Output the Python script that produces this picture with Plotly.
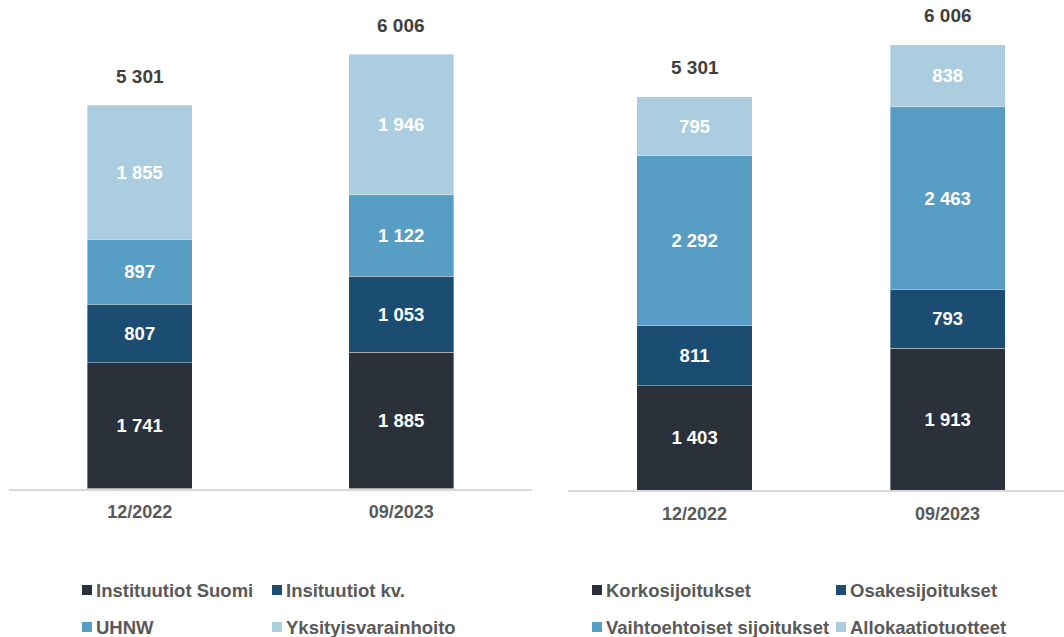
import plotly.graph_objects as go

# Periods shown on both panels
periods = ["12/2022", "09/2023"]

# Left panel: assets by client segment
seg_names = ["Instituutiot Suomi", "Insituutiot kv.", "UHNW", "Yksityisvarainhoito"]
inst_suomi = [1741, 1885]
inst_kv = [807, 1053]
uhnw = [897, 1122]
yksityis = [1855, 1946]
seg_totals = [5301, 6006]

# Right panel: assets by product type
prod_names = ["Korkosijoitukset", "Osakesijoitukset", "Vaihtoehtoiset sijoitukset", "Allokaatiotuotteet"]
korko = [1403, 1913]
osake = [811, 793]
vaihtoehtoiset = [2292, 2463]
allokaatio = [795, 838]
prod_totals = [5301, 6006]

colors = ["#2a313b", "#1b4d73", "#589dc4", "#aacedf"]
FONT = "Arial, Liberation Sans, sans-serif"
W, H = 1064, 637

fig = go.Figure()

def add_stack(series, names, xa, ya, width):
    for vals, name, col in zip(series, names, colors):
        fig.add_trace(go.Bar(
            x=periods, y=vals, name=name, xaxis=xa, yaxis=ya,
            marker=dict(color=col, line=dict(color="rgba(255,255,255,0.6)", width=0.6)),
            width=width,
            texttemplate="%{y:,.0f}", textposition="inside",
            insidetextanchor="middle", constraintext="none", textangle=0,
            textfont=dict(family=FONT, size=18.5, color="white", weight="bold"),
            showlegend=False, hoverinfo="skip",
        ))

add_stack([inst_suomi, inst_kv, uhnw, yksityis], seg_names, "x", "y", 0.40)
add_stack([korko, osake, vaihtoehtoiset, allokaatio], prod_names, "x2", "y2", 0.455)

# Totals above each stack
for totals, xa, ya in [(seg_totals, "x", "y"), (prod_totals, "x2", "y2")]:
    for p, t in zip(periods, totals):
        fig.add_annotation(
            x=p, y=t, xref=xa, yref=ya, text=f"{t:,}".replace(",", " "),
            showarrow=False, yanchor="middle", yshift=29,
            font=dict(family=FONT, size=19, color="#404040", weight="bold"),
        )

# Legends drawn as colour squares with bold labels
def px_x(v):
    return v / W

def px_y(v):
    return 1 - v / H

legend_layout = [
    (seg_names, [(82, 590), (272, 590), (82, 627), (272, 627)]),
    (prod_names, [(592, 590), (836, 590), (592, 627), (836, 627)]),
]
for names, spots in legend_layout:
    for name, col, (sx, sy) in zip(names, colors, spots):
        fig.add_shape(type="rect", xref="paper", yref="paper",
                      x0=px_x(sx), x1=px_x(sx + 10), y0=px_y(sy + 5), y1=px_y(sy - 5),
                      fillcolor=col, line=dict(width=0))
        fig.add_annotation(x=px_x(sx + 12), y=px_y(sy), xref="paper", yref="paper",
                           text=name, showarrow=False, xanchor="left", yanchor="middle",
                           font=dict(family=FONT, size=18.5, color="#595959", weight="bold"))

axis_common = dict(
    showgrid=False, zeroline=False, ticks="", showline=True,
    linecolor="#d9d9d9", linewidth=2, fixedrange=True,
    tickfont=dict(family=FONT, size=18, color="#595959", weight="bold"),
    ticklabelstandoff=6,
)
yaxis_common = dict(visible=False, showgrid=False, zeroline=False, fixedrange=True)

fig.update_layout(
    width=W, height=H, margin=dict(l=0, r=0, t=0, b=0),
    paper_bgcolor="white", plot_bgcolor="white",
    barmode="stack", separators=", ",
    xaxis=dict(domain=[9 / W, 532 / W], range=[-0.5, 1.5], anchor="y", **axis_common),
    yaxis=dict(domain=[(H - 488.5) / H, 1], range=[0, 6757], **yaxis_common),
    xaxis2=dict(domain=[568 / W, 1], range=[-0.5, 1.46], anchor="y2", **axis_common),
    yaxis2=dict(domain=[(H - 490) / H, 1], range=[0, 6609], **yaxis_common),
)

fig.write_html("out.html")
